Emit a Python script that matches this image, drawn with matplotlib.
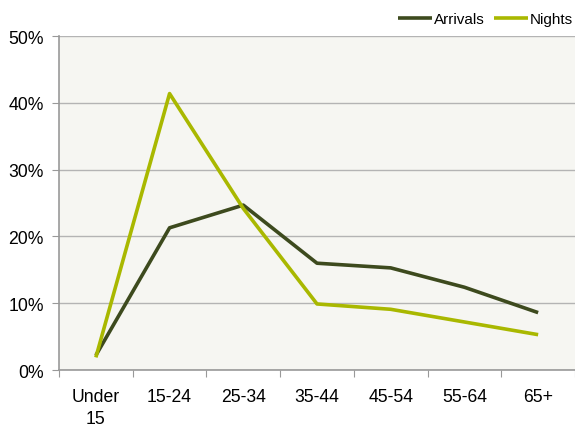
import matplotlib.pyplot as plt
import numpy as np

plt.rcParams['font.family'] = ['Liberation Sans', 'DejaVu Sans']

ages = ['Under\n15', '15-24', '25-34', '35-44', '45-54', '55-64', '65+']
arrivals = [2.2, 21.3, 24.7, 16.0, 15.3, 12.4, 8.6]
nights = [1.9, 41.4, 24.2, 9.9, 9.1, 7.2, 5.3]

fig = plt.figure(figsize=(5.75, 4.27), dpi=100)
ax = fig.add_axes([0.1026, 0.131, 0.8974, 0.782])
ax.set_facecolor('#f6f6f2')

x = np.arange(len(ages))
ax.plot(x, arrivals, color='#3d4a1e', lw=2.6, label='Arrivals', solid_capstyle='butt')
ax.plot(x, nights, color='#a9b800', lw=2.6, label='Nights', solid_capstyle='butt')

ax.set_xlim(-0.5, len(ages) - 0.5)
ax.set_ylim(0, 50)
ax.set_yticks(np.arange(0, 51, 10))
ax.set_yticklabels([f'{v}%' for v in range(0, 51, 10)], fontsize=12.7)
ax.yaxis.grid(True, color='#b4b4b4', lw=1)
ax.set_axisbelow(True)

# category labels sit between the tick marks
ax.set_xticks(np.arange(-0.5, len(ages)), labels=[''] * (len(ages) + 1))
ax.set_xticks(x, labels=ages, minor=True)
for lbl in ax.get_xticklabels(minor=True):
    lbl.set_linespacing(1.35)
ax.tick_params(axis='x', which='minor', length=0, pad=13, labelsize=12.7)
ax.tick_params(axis='both', which='major', direction='out', length=5, color='#999999')
ax.tick_params(axis='y', pad=6)

for side in ['top', 'right']:
    ax.spines[side].set_visible(False)
for side in ['left', 'bottom']:
    ax.spines[side].set_color('#999999')
    ax.spines[side].set_linewidth(1.2)

ax.legend(loc='lower right', bbox_to_anchor=(0.996, 1.03), ncol=2, frameon=False,
          fontsize=11, handlelength=2.2, handletextpad=0.15, columnspacing=0.6,
          borderaxespad=0, borderpad=0)

fig.savefig('out.png', dpi=100)
